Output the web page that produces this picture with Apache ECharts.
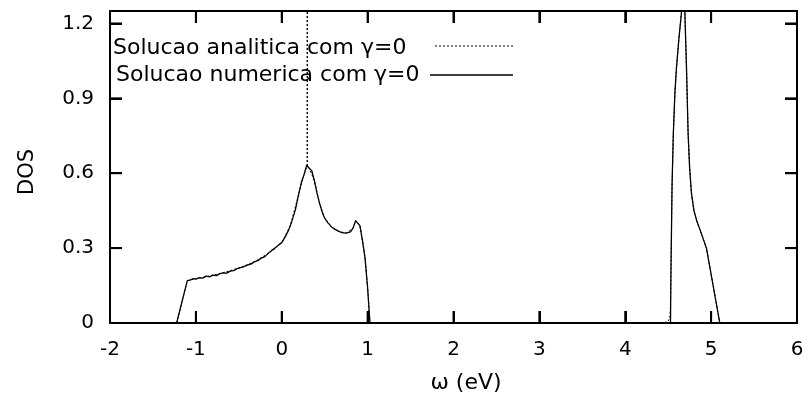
<!DOCTYPE html>
<html>
<head>
<meta charset="utf-8">
<script src="https://cdn.jsdelivr.net/npm/echarts@6/dist/echarts.min.js"></script>
<style>
html,body{margin:0;padding:0;background:#fff;}
#c{width:811px;height:403px;}
</style>
</head>
<body>
<div id="c"></div>
<script>
// Numerical solution (solid line)
var omegaNum = [-1.224,-1.10,-1.069,-1.03,-1.00,-0.96,-0.92,-0.88,-0.84,-0.80,-0.76,-0.72,-0.68,-0.64,-0.60,-0.56,-0.52,-0.48,-0.44,-0.40,-0.36,-0.32,-0.28,-0.24,-0.20,-0.16,-0.12,-0.08,-0.04,0.00,0.04,0.08,0.12,0.16,0.20,0.23,0.26,0.29,0.32,0.35,0.38,0.41,0.44,0.47,0.50,0.54,0.58,0.62,0.66,0.70,0.75,0.80,0.83,0.86,0.88,0.91,0.94,0.97,1.00,1.027,4.527,4.532,4.538,4.545,4.560,4.578,4.597,4.625,4.655,4.675,4.694,4.713,4.732,4.750,4.771,4.800,4.830,4.890,4.946,5.101];
var dosNum   = [0,0.170,0.172,0.178,0.176,0.182,0.180,0.188,0.185,0.192,0.190,0.198,0.201,0.200,0.208,0.210,0.218,0.222,0.226,0.232,0.236,0.245,0.250,0.260,0.265,0.278,0.290,0.300,0.312,0.322,0.345,0.372,0.410,0.455,0.520,0.565,0.595,0.632,0.620,0.610,0.570,0.520,0.480,0.445,0.420,0.400,0.385,0.375,0.368,0.362,0.360,0.365,0.380,0.410,0.415,0.390,0.330,0.260,0.140,0,0,0.20,0.36,0.55,0.76,0.92,1.025,1.14,1.245,1.32,1.245,1.025,0.759,0.62,0.519,0.45,0.412,0.355,0.299,0];

// Analytic solution (dotted line)
var omegaAna = [-1.224,-1.10,-0.90,-0.70,-0.50,-0.30,-0.10,0.00,0.10,0.20,0.26,0.295,0.297,0.299,0.32,0.38,0.44,0.50,0.58,0.66,0.75,0.83,0.86,0.88,0.91,0.94,0.97,1.00,1.027,4.44,4.48,4.51,4.522,4.527,4.532,4.538,4.545,4.560,4.578,4.597,4.625,4.655,4.675,4.694,4.713,4.732,4.750,4.771,4.800,4.830,4.890,4.946,5.101];
var dosAna   = [0,0.170,0.184,0.200,0.220,0.248,0.292,0.322,0.390,0.520,0.595,0.630,5.0,0.630,0.620,0.570,0.480,0.420,0.385,0.368,0.360,0.380,0.410,0.415,0.390,0.330,0.260,0.140,0,0,0.004,0.012,0.03,0.08,0.20,0.36,0.55,0.76,0.92,1.025,1.14,1.245,1.32,1.245,1.025,0.759,0.62,0.519,0.45,0.412,0.355,0.299,0];

var xTicks = [-2,-1,0,1,2,3,4,5,6];
var yTicks = [0,0.3,0.6,0.9,1.2];
var legendNames = ['Solucao analitica com \u03b3=0','Solucao numerica com \u03b3=0'];
var xTitle = '\u03c9 (eV)';
var yTitle = 'DOS';

function pairs(xs, ys){ var out=[]; for(var i=0;i<xs.length;i++) out.push([xs[i], ys[i]]); return out; }

var FONT = 'DejaVu Sans';
var chart = echarts.init(document.getElementById('c'));

function fmtY(v){ var r = Math.round(v*10)/10; return String(r); }
function tick(){ return {show:true, inside:true, length:12, lineStyle:{color:'#000', width:2}}; }
function line(){ return {show:true, onZero:false, lineStyle:{color:'#000', width:2}}; }

// inward tick marks drawn through the axes' own scales (custom series)
function tickSeries(){
  var data = [];
  xTicks.forEach(function(v){ data.push(['x', v]); });
  yTicks.forEach(function(v){ data.push(['y', v]); });
  return {
    type:'custom', silent:true, z:5, clip:false,
    data:data,
    renderItem:function(params, api){
      var kind = data[params.dataIndex][0];
      var v = data[params.dataIndex][1];
      var L = 12, out = [];
      if (kind === 'x') {
        var b = api.coord([v, 0]), t = api.coord([v, 1.25]);
        out.push({type:'line', shape:{x1:b[0], y1:b[1], x2:b[0], y2:b[1]-L}, style:{stroke:'#000', lineWidth:2}});
        out.push({type:'line', shape:{x1:t[0], y1:t[1], x2:t[0], y2:t[1]+L}, style:{stroke:'#000', lineWidth:2}});
      } else {
        var l = api.coord([-2, v]), r = api.coord([6, v]);
        out.push({type:'line', shape:{x1:l[0], y1:l[1], x2:l[0]+L, y2:l[1]}, style:{stroke:'#000', lineWidth:2}});
        out.push({type:'line', shape:{x1:r[0], y1:r[1], x2:r[0]-L, y2:r[1]}, style:{stroke:'#000', lineWidth:2}});
      }
      return {type:'group', children:out};
    }
  };
}

chart.setOption({
  animation:false,
  grid:{left:110, right:14, top:11, bottom:80},
  xAxis:[
    {type:'value', min:xTicks[0], max:xTicks[xTicks.length-1], interval:1, position:'bottom',
     axisLine:line(), axisTick:tick(), splitLine:{show:false},
     axisLabel:{color:'#000', fontFamily:FONT, fontSize:20, margin:17}},
    {type:'value', min:xTicks[0], max:xTicks[xTicks.length-1], interval:1, position:'top',
     axisLine:line(), axisTick:tick(), splitLine:{show:false}, axisLabel:{show:false}}
  ],
  yAxis:[
    {type:'value', min:0, max:1.25, interval:0.3, position:'left',
     axisLine:line(), axisTick:tick(), splitLine:{show:false},
     axisLabel:{color:'#000', fontFamily:FONT, fontSize:20, margin:16, formatter:fmtY, showMaxLabel:false}},
    {type:'value', min:0, max:1.25, interval:0.3, position:'right',
     axisLine:line(), axisTick:tick(), splitLine:{show:false}, axisLabel:{show:false}}
  ],
  series:[
    {name:legendNames[0], type:'line', data:pairs(omegaAna, dosAna),
     showSymbol:false, symbol:'none', lineStyle:{color:'#000', width:1, type:[2,2]}},
    {name:legendNames[1], type:'line', data:pairs(omegaNum, dosNum),
     showSymbol:false, symbol:'none', lineStyle:{color:'#000', width:1.3}},
    tickSeries()
  ],
  graphic:[
    {type:'text', left:113, top:37, style:{text:legendNames[0], fontFamily:FONT, fontSize:22, fill:'#000'}},
    {type:'text', left:116, top:64, style:{text:legendNames[1], fontFamily:FONT, fontSize:22, fill:'#000'}},
    {type:'line', shape:{x1:435, y1:46, x2:513, y2:46}, style:{stroke:'#000', lineWidth:1, lineDash:[2,2]}},
    {type:'line', shape:{x1:430, y1:75, x2:513, y2:75}, style:{stroke:'#000', lineWidth:1.3}},
    {type:'text', x:466, y:383, style:{text:xTitle, fontFamily:FONT, fontSize:22, fill:'#000', align:'center', verticalAlign:'middle'}},
    {type:'text', x:28, y:172, rotation:Math.PI/2, style:{text:yTitle, fontFamily:FONT, fontSize:21, fill:'#000', align:'center', verticalAlign:'middle'}}
  ]
});
</script>
</body>
</html>
